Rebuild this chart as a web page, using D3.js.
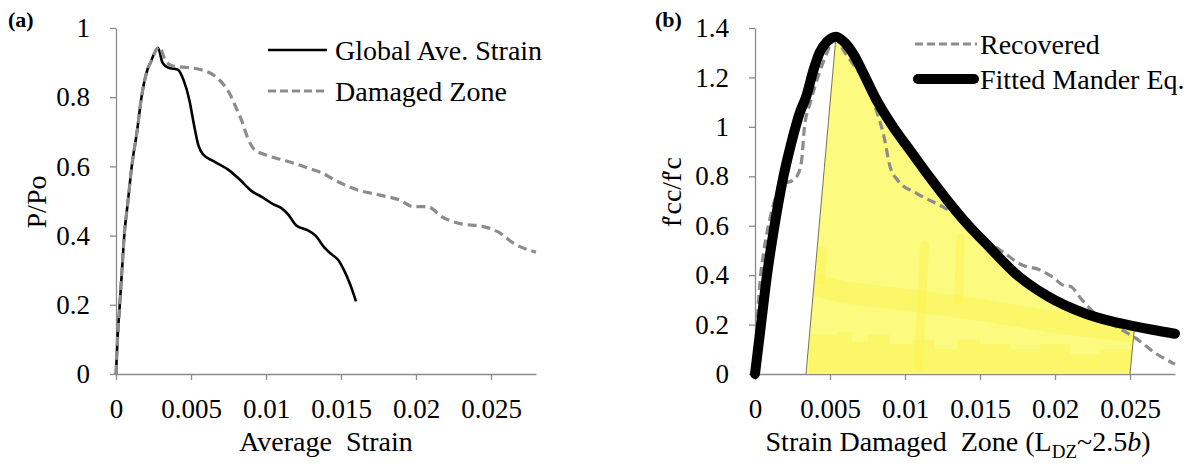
<!DOCTYPE html>
<html>
<head>
<meta charset="utf-8">
<script src="https://cdn.jsdelivr.net/npm/d3@7"></script>
<style>
  body { margin: 0; background: #fff; }
  svg { display: block; font-family: "Liberation Serif", "Times New Roman", serif; }
  .axis path, .axis line { stroke: #8a8a8a; stroke-width: 1.3px; }
  .axis text { font-size: 27px; fill: #000; font-family: "Liberation Serif", serif; }
</style>
</head>
<body>
<div id="vis"></div>
<script>
// ---- panel (a): average strain vs P/Po ----
const globalAve = [
    [0, 0], [0.0001, 0.1], [0.00025, 0.2], [0.0004, 0.3], [0.00055, 0.4], [0.0008, 0.5],
    [0.00105, 0.6], [0.0014, 0.7], [0.0017, 0.8], [0.0021, 0.88], [0.0023, 0.9], [0.0028, 0.943],
    [0.0031, 0.9], [0.0035, 0.885], [0.0041, 0.88], [0.0045, 0.85], [0.0049, 0.79], [0.0052, 0.72],
    [0.0055, 0.66], [0.0058, 0.635], [0.0065, 0.615], [0.0075, 0.59], [0.0083, 0.56], [0.009, 0.53],
    [0.0098, 0.51], [0.0105, 0.49], [0.011, 0.48], [0.0115, 0.46], [0.012, 0.43], [0.0128, 0.415],
    [0.0133, 0.40], [0.0139, 0.365], [0.0144, 0.345], [0.0148, 0.33], [0.0152, 0.3], [0.0156, 0.26],
    [0.016, 0.21]
];
const damagedZone = [
    [0, 0], [0.0001, 0.1], [0.00025, 0.2], [0.0004, 0.3], [0.00055, 0.4], [0.0008, 0.5],
    [0.00105, 0.6], [0.0014, 0.7], [0.0017, 0.8], [0.0021, 0.88], [0.0023, 0.9], [0.0029, 0.945],
    [0.0033, 0.905], [0.0038, 0.89], [0.0045, 0.887], [0.0056, 0.88], [0.0065, 0.864], [0.0072, 0.835],
    [0.0077, 0.8], [0.008, 0.77], [0.0084, 0.73], [0.0088, 0.68], [0.0092, 0.65], [0.01, 0.633],
    [0.011, 0.62], [0.0118, 0.61], [0.0128, 0.595], [0.0138, 0.58], [0.0146, 0.56], [0.0161, 0.532],
    [0.0176, 0.517], [0.0189, 0.503], [0.0198, 0.484], [0.0207, 0.484], [0.0219, 0.45], [0.0229, 0.435],
    [0.0245, 0.426], [0.0255, 0.41], [0.0265, 0.378], [0.028, 0.352]
];

// ---- panel (b): strain in damaged zone vs f'cc/f'c ----
const recovered = [
    [0, 0], [0.0001, 0.15], [0.0003, 0.35], [0.0006, 0.5], [0.001, 0.63], [0.0014, 0.72],
    [0.0018, 0.77], [0.0024, 0.78], [0.0028, 0.8], [0.0031, 0.86], [0.0033, 1.0], [0.0037, 1.1],
    [0.0043, 1.22], [0.0048, 1.3], [0.0051, 1.34], [0.0054, 1.35], [0.006, 1.3], [0.0067, 1.24],
    [0.0074, 1.18], [0.0079, 1.1], [0.0086, 0.96], [0.009, 0.84], [0.0095, 0.785], [0.0108, 0.73],
    [0.0125, 0.677], [0.0139, 0.623], [0.0152, 0.55], [0.0165, 0.495], [0.0178, 0.441], [0.019, 0.421],
    [0.0198, 0.394], [0.0206, 0.358], [0.021, 0.355], [0.0218, 0.3], [0.0229, 0.232], [0.0241, 0.191],
    [0.0254, 0.144], [0.0267, 0.084], [0.028, 0.04]
];
const mander = [
    [0, 0], [0.0004, 0.2], [0.0008, 0.4], [0.0013, 0.6], [0.0019, 0.8], [0.0024, 0.93],
    [0.003, 1.06], [0.0034, 1.12], [0.0039, 1.23], [0.0043, 1.3], [0.0048, 1.345], [0.0054, 1.365],
    [0.006, 1.34], [0.0066, 1.29], [0.0072, 1.22], [0.008, 1.12], [0.0092, 1.0], [0.0104, 0.9],
    [0.0116, 0.8], [0.0128, 0.705], [0.0141, 0.61], [0.0156, 0.515], [0.0173, 0.41], [0.0195, 0.315],
    [0.022, 0.245], [0.024, 0.21], [0.025, 0.197], [0.0265, 0.179], [0.028, 0.163]
];
// shaded (yellow) zone: left foot, right foot and where it leaves the Mander curve
const shadeLeftFoot = [0.0034, 0];
const shadeRightFoot = [0.025, 0];
const shadeEnd = [0.0253, 0.192];
// highlighter strokes inside the shaded zone
const highlightStrokes = [
    [[0.0032, 0.37], [0.006, 0.33], [0.01, 0.3], [0.015, 0.26], [0.02, 0.21], [0.0255, 0.17]],
    [[0.0113, 0.52], [0.0109, 0.03]],
    [[0.0045, 0.5], [0.0044, 0.38]],
    [[0.0137, 0.55], [0.0136, 0.3]]
];
// brighter patch along the bottom of the shaded zone (jagged top edge)
const highlightBase = [
    [0.0036, 0.16], [0.0055, 0.17], [0.0065, 0.13], [0.0075, 0.16], [0.009, 0.12], [0.0105, 0.14],
    [0.012, 0.1], [0.0135, 0.14], [0.015, 0.12], [0.017, 0.1], [0.019, 0.12], [0.021, 0.08],
    [0.023, 0.1], [0.0255, 0.06]
];

const xTicks = [0, 0.005, 0.01, 0.015, 0.02, 0.025];
const yTicksA = [0, 0.2, 0.4, 0.6, 0.8, 1];
const yTicksB = [0, 0.2, 0.4, 0.6, 0.8, 1, 1.2, 1.4];

const width = 1204, height = 468;
const plotTop = 28, plotBottom = 374;

const svg = d3.select("#vis")
    .append("svg")
    .attr("width", width)
    .attr("height", height);

svg.append("rect").attr("width", width).attr("height", height).attr("fill", "#fff");

const xA = d3.scaleLinear().domain([0, 0.028]).range([116, 536]);
const yA = d3.scaleLinear().domain([0, 1]).range([plotBottom, plotTop]);
const xB = d3.scaleLinear().domain([0, 0.028]).range([755, 1175]);
const yB = d3.scaleLinear().domain([0, 1.4]).range([plotBottom, plotTop]);

function drawAxes(x, y, yTicks) {
    svg.append("g")
        .attr("class", "axis")
        .attr("transform", `translate(0,${plotBottom})`)
        .call(d3.axisBottom(x).tickValues(xTicks).tickSize(6).tickSizeOuter(0).tickPadding(19)
            .tickFormat(d => String(d)));
    svg.append("g")
        .attr("class", "axis")
        .attr("transform", `translate(${x(0)},0)`)
        .call(d3.axisLeft(y).tickValues(yTicks).tickSize(6).tickSizeOuter(0).tickPadding(20)
            .tickFormat(d => String(d)));
}

const lineGen = (x, y) => d3.line()
    .x(d => x(d[0]))
    .y(d => y(d[1]))
    .curve(d3.curveMonotoneX);

// ================= panel (a) =================
drawAxes(xA, yA, yTicksA);

svg.append("path")
    .datum(globalAve)
    .attr("fill", "none")
    .attr("stroke", "#000")
    .attr("stroke-width", 2.6)
    .attr("d", lineGen(xA, yA));

svg.append("path")
    .datum(damagedZone)
    .attr("fill", "none")
    .attr("stroke", "#8c8c8c")
    .attr("stroke-width", 3.2)
    .attr("stroke-dasharray", "9,5")
    .attr("d", lineGen(xA, yA));

// legend (a)
svg.append("line").attr("x1", 268).attr("x2", 327).attr("y1", 50).attr("y2", 50)
    .attr("stroke", "#000").attr("stroke-width", 2.6);
svg.append("text").attr("x", 335).attr("y", 60).attr("font-size", 28).text("Global Ave. Strain");
svg.append("line").attr("x1", 268).attr("x2", 327).attr("y1", 91).attr("y2", 91)
    .attr("stroke", "#8c8c8c").attr("stroke-width", 3.2).attr("stroke-dasharray", "8,4");
svg.append("text").attr("x", 335).attr("y", 101).attr("font-size", 28).text("Damaged Zone");

// titles (a)
svg.append("text")
    .attr("x", 326).attr("y", 451)
    .attr("text-anchor", "middle")
    .attr("font-size", 28)
    .style("white-space", "pre")
    .text("Average  Strain");
svg.append("text")
    .attr("transform", "translate(46,202) rotate(-90)")
    .attr("text-anchor", "middle")
    .attr("font-size", 28)
    .text("P/Po");
svg.append("text").attr("x", 8).attr("y", 27).attr("font-size", 22).attr("font-weight", "bold").text("(a)");

// ================= panel (b) =================
drawAxes(xB, yB, yTicksB);

// yellow zone: straight left edge up to the Mander peak, then along the curve
const peak = mander.reduce((a, b) => (b[1] > a[1] ? b : a));
const rightPart = mander.filter(d => d[0] >= peak[0] && d[0] < shadeEnd[0]);
const shadePts = [shadeLeftFoot, ...rightPart, shadeEnd, shadeRightFoot];

const shadePath = d3.line().x(d => xB(d[0])).y(d => yB(d[1])).curve(d3.curveLinearClosed);

svg.append("clipPath").attr("id", "shadeClip")
    .append("path").attr("d", shadePath(shadePts));

svg.append("path")
    .attr("d", shadePath(shadePts))
    .attr("fill", "#fdfa80");

const hl = svg.append("g").attr("clip-path", "url(#shadeClip)");

hl.append("path")
    .datum(highlightBase)
    .attr("fill", "#f9f240")
    .attr("fill-opacity", 0.35)
    .attr("d", d3.area().x(d => xB(d[0])).y0(yB(0)).y1(d => yB(d[1])).curve(d3.curveStepAfter));

hl.selectAll("path.stroke")
    .data(highlightStrokes)
    .join("path")
    .attr("class", "stroke")
    .attr("fill", "none")
    .attr("stroke", "#f9f240")
    .attr("stroke-opacity", 0.35)
    .attr("stroke-width", (d, i) => (i === 0 ? 22 : 9))
    .attr("stroke-linecap", "round")
    .attr("d", d3.line().x(d => xB(d[0])).y(d => yB(d[1])));

// thin edges of the shaded zone
svg.append("line")
    .attr("x1", xB(shadeLeftFoot[0])).attr("y1", yB(shadeLeftFoot[1]))
    .attr("x2", xB(peak[0])).attr("y2", yB(peak[1]))
    .attr("stroke", "#77744a").attr("stroke-width", 1);
svg.append("line")
    .attr("x1", xB(shadeRightFoot[0])).attr("y1", yB(shadeRightFoot[1]))
    .attr("x2", xB(shadeEnd[0])).attr("y2", yB(shadeEnd[1]))
    .attr("stroke", "#77744a").attr("stroke-width", 1);

svg.append("path")
    .datum(recovered)
    .attr("fill", "none")
    .attr("stroke", "#8c8c8c")
    .attr("stroke-width", 3.2)
    .attr("stroke-dasharray", "9,5")
    .attr("d", lineGen(xB, yB));

svg.append("path")
    .datum(mander)
    .attr("fill", "none")
    .attr("stroke", "#000")
    .attr("stroke-width", 10)
    .attr("stroke-linecap", "round")
    .attr("stroke-linejoin", "round")
    .attr("d", lineGen(xB, yB));

// legend (b)
svg.append("line").attr("x1", 915).attr("x2", 977).attr("y1", 44).attr("y2", 44)
    .attr("stroke", "#8c8c8c").attr("stroke-width", 3.2).attr("stroke-dasharray", "8,4");
svg.append("text").attr("x", 980).attr("y", 54).attr("font-size", 28).text("Recovered");
svg.append("line").attr("x1", 918).attr("x2", 974).attr("y1", 79).attr("y2", 79)
    .attr("stroke", "#000").attr("stroke-width", 10).attr("stroke-linecap", "round");
svg.append("text").attr("x", 980).attr("y", 89).attr("font-size", 28).text("Fitted Mander Eq.");

// titles (b)
const xt = svg.append("text")
    .attr("x", 958).attr("y", 451)
    .attr("text-anchor", "middle")
    .attr("font-size", 28)
    .style("white-space", "pre");
xt.append("tspan").text("Strain Damaged  Zone (L");
xt.append("tspan").attr("font-size", 19).attr("dy", 7).text("DZ");
xt.append("tspan").attr("dy", -7).text("~2.5");
xt.append("tspan").attr("font-style", "italic").text("b");
xt.append("tspan").text(")");

const yt = svg.append("text")
    .attr("transform", "translate(681,192) rotate(-90)")
    .attr("text-anchor", "middle")
    .attr("font-size", 28);
yt.append("tspan").text("f");
yt.append("tspan").attr("dx", -3).text("\u2032");
yt.append("tspan").text("cc/f");
yt.append("tspan").attr("dx", -3).text("\u2032");
yt.append("tspan").text("c");

svg.append("text").attr("x", 655).attr("y", 27).attr("font-size", 22).attr("font-weight", "bold").text("(b)");
</script>
</body>
</html>
